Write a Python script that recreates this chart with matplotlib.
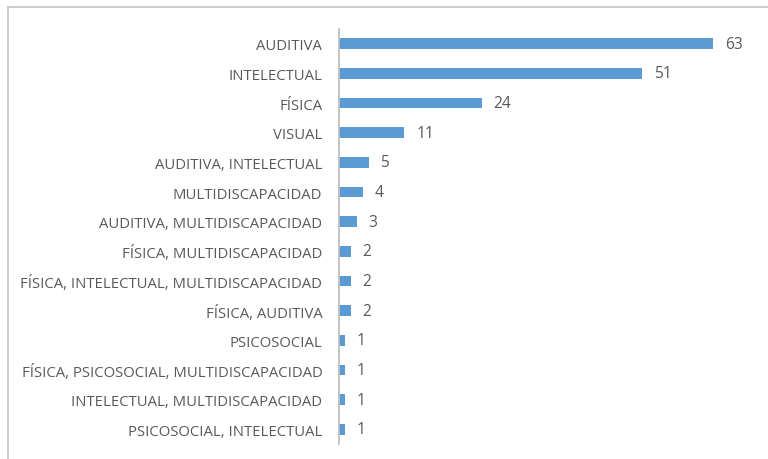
import matplotlib
matplotlib.use("Agg")
import matplotlib.pyplot as plt
from matplotlib.lines import Line2D

categories = [
    "AUDITIVA",
    "INTELECTUAL",
    "FÍSICA",
    "VISUAL",
    "AUDITIVA, INTELECTUAL",
    "MULTIDISCAPACIDAD",
    "AUDITIVA, MULTIDISCAPACIDAD",
    "FÍSICA, MULTIDISCAPACIDAD",
    "FÍSICA, INTELECTUAL, MULTIDISCAPACIDAD",
    "FÍSICA, AUDITIVA",
    "PSICOSOCIAL",
    "FÍSICA, PSICOSOCIAL, MULTIDISCAPACIDAD",
    "INTELECTUAL, MULTIDISCAPACIDAD",
    "PSICOSOCIAL, INTELECTUAL",
]
values = [63, 51, 24, 11, 5, 4, 3, 2, 2, 2, 1, 1, 1, 1]

plt.rcParams['font.family'] = ['Open Sans', 'DejaVu Sans']
text_color = '#595959'
bar_color = '#5B9BD5'

fig = plt.figure(figsize=(7.68, 4.6), dpi=100)
ax = fig.add_axes([339/768, 1 - 445/460, (755 - 339)/768, (445 - 30)/460])

y = list(range(len(categories)))
ax.barh(y, values, height=0.36, color=bar_color)
ax.set_ylim(len(categories) - 0.5, -0.5)
ax.set_xlim(0, 70)
ax.set_yticks(y)
ax.set_yticklabels(categories, fontsize=10.7, color=text_color)
ax.tick_params(axis='y', length=0, pad=12)
ax.set_xticks([])
for s in ['top', 'right', 'bottom']:
    ax.spines[s].set_visible(False)
ax.spines['left'].set_color('#BFBFBF')
ax.spines['left'].set_linewidth(1.3)

for yi, v in zip(y, values):
    ax.annotate(str(v), (v, yi), xytext=(8.5, 0), textcoords='offset points',
                va='center', ha='left', fontsize=11.2, color=text_color)

# outer chart border (top and left edges visible)
fig.add_artist(Line2D([8/768, 1.0], [1 - 8/460, 1 - 8/460], transform=fig.transFigure,
                      color='#C8C8C8', linewidth=1.3))
fig.add_artist(Line2D([8/768, 8/768], [0.0, 1 - 8/460], transform=fig.transFigure,
                      color='#C8C8C8', linewidth=1.3))

fig.savefig("out.png", dpi=100)
